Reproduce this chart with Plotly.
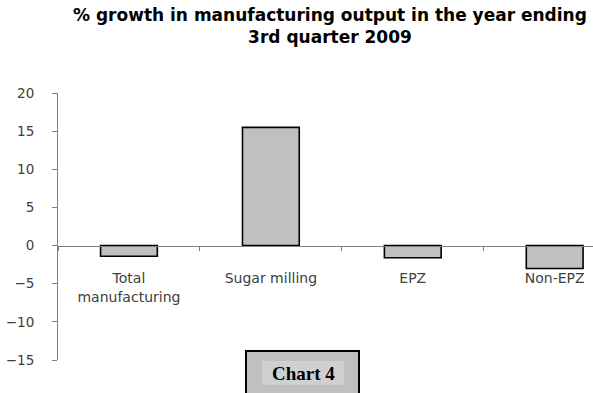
import plotly.graph_objects as go

categories = ["Total<br>manufacturing", "Sugar milling", "EPZ", "Non-EPZ"]
growth = [-1.4, 15.5, -1.6, -3.0]
y_ticks = [-15, -10, -5, 0, 5, 10, 15, 20]
title_text = "% growth in manufacturing output in the year ending<br>3rd quarter 2009"
chart_label = "Chart 4"

W, H = 593, 393
ML, MR, MT, MB = 58, 0, 93, 33
ymin, ymax = -15, 20
zero_pos = (0 - ymin) / (ymax - ymin)

def px_x(p):
    return (p - ML) / (W - ML - MR)

def px_y(p):
    return (H - MB - p) / (H - MT - MB)

fig = go.Figure()
fig.add_trace(go.Bar(
    x=categories, y=growth, width=0.4,
    marker=dict(color="#c0c0c0", line=dict(color="#000000", width=1.6)),
    hoverinfo="skip",
))

fig.update_layout(
    width=W, height=H,
    margin=dict(l=ML, r=MR, t=MT, b=MB, autoexpand=False),
    paper_bgcolor="white", plot_bgcolor="white",
    showlegend=False,
    font=dict(family="DejaVu Sans", size=14, color="#404040"),
    xaxis=dict(
        type="category", range=[-0.5, 3.27],
        anchor="free", position=zero_pos, automargin=False,
        showline=True, linecolor="#808080", linewidth=1,
        ticks="outside", tickson="boundaries", ticklen=4, tickcolor="#808080",
        showgrid=False, zeroline=False,
        ticklabelstandoff=20,
        tickfont=dict(family="DejaVu Sans", size=14, color="#404040"),
    ),
    yaxis=dict(
        range=[ymin, ymax], tickvals=y_ticks, automargin=False,
        showline=True, linecolor="#808080", linewidth=1,
        ticks="outside", ticklen=5, tickcolor="#808080",
        showgrid=False, zeroline=False,
        ticklabelstandoff=15,
        tickfont=dict(family="DejaVu Sans", size=13.5, color="#404040"),
    ),
)

fig.add_annotation(text="<b>" + title_text + "</b>", xref="paper", yref="paper",
                   x=px_x(330), y=px_y(26), showarrow=False,
                   xanchor="center", yanchor="middle", align="center",
                   font=dict(family="DejaVu Sans", size=17, color="#000000"))

fig.add_shape(type="rect", xref="paper", yref="paper",
              x0=px_x(246), x1=px_x(359), y0=px_y(400), y1=px_y(351),
              fillcolor="#c0c0c0", line=dict(color="#000000", width=2), layer="above")
fig.add_shape(type="rect", xref="paper", yref="paper",
              x0=px_x(262), x1=px_x(344), y0=px_y(385), y1=px_y(361),
              fillcolor="#d0d0d0", line=dict(width=0), layer="above")
fig.add_annotation(text="<b>" + chart_label + "</b>", xref="paper", yref="paper",
                   x=px_x(303), y=px_y(373), showarrow=False,
                   xanchor="center", yanchor="middle",
                   font=dict(family="Liberation Serif", size=19, color="#000000"))

fig.write_html("out.html", config={"displayModeBar": False, "staticPlot": True},
               post_script="document.body.style.margin='0';document.body.style.overflow='hidden';")
